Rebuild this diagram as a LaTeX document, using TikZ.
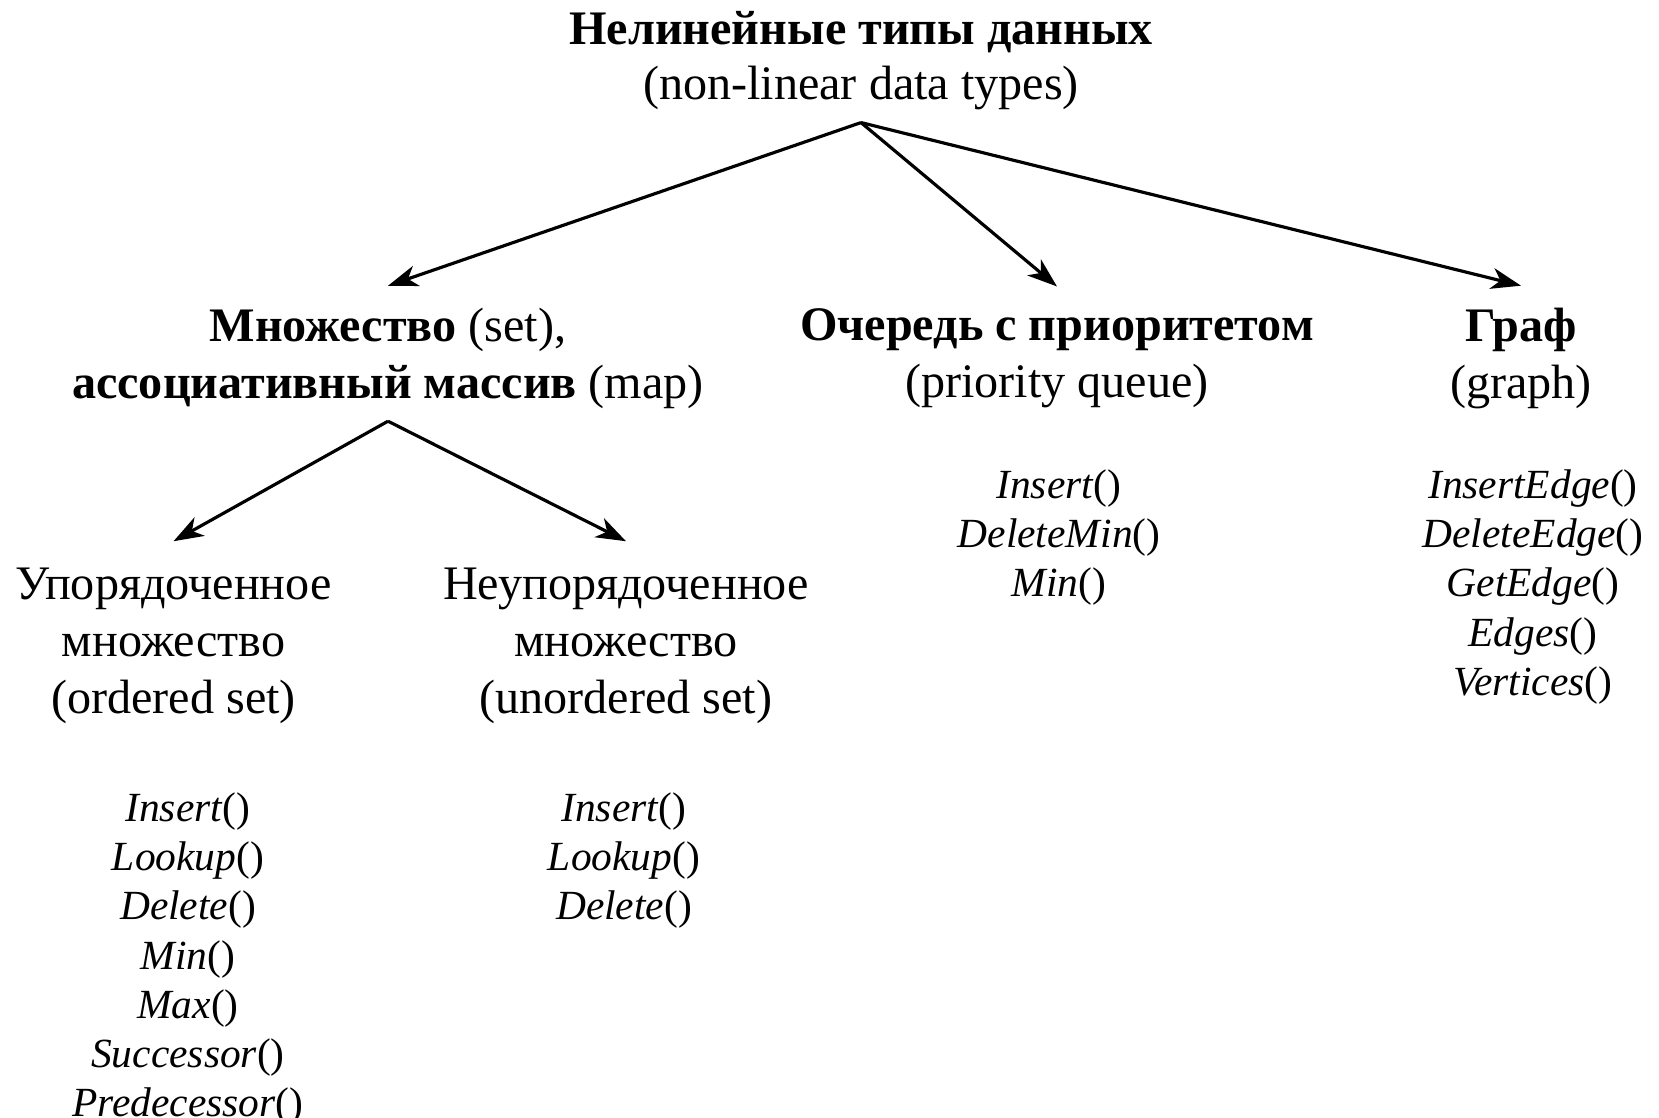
\documentclass[tikz,border=0pt]{standalone}
\usepackage{fontspec}
\setmainfont{Liberation Serif}
\usetikzlibrary{positioning,arrows.meta}
\newcommand{\opname}[1]{\textit{#1}()}

\begin{document}
\begin{tikzpicture}[
head/.style={align=center,font=\fontsize{13.7}{16.2}\selectfont},
ops/.style={align=center,anchor=north,inner sep=0pt,font=\fontsize{11.8}{14}\selectfont},
arrow/.style={-{Stealth[length=8.5pt,width=6pt,inset=2.5pt]},line width=0.9pt}
]
\useasboundingbox (0,0) rectangle (16.59,11.18);
\node[head,font=\fontsize{13.7}{15.6}\selectfont] (root) at (8.61,10.57) {\textbf{Нелинейные типы данных}\\(non-linear data types)};
\node[head] (set) at (3.88,7.595) {\textbf{Множество} (set),\\\textbf{ассоциативный массив} (map)};
\node[head] (pq) at (10.57,7.595) {\textbf{Очередь с приоритетом}\\(priority queue)};
\node[head] (graph) at (15.21,7.595) {\textbf{Граф}\\(graph)};
\node[head] (ordset) at (1.735,4.725) {Упорядоченное\\множество\\(ordered set)};
\node[head] (unordset) at (6.26,4.725) {Неупорядоченное\\множество\\(unordered set)};
% operations
\node[ops] (pqops) at (10.59,6.49) {\opname{Insert}\\\opname{DeleteMin}\\\opname{Min}};
\node[ops] (graphops) at (15.33,6.49) {\opname{InsertEdge}\\\opname{DeleteEdge}\\\opname{GetEdge}\\\opname{Edges}\\\opname{Vertices}};
\node[ops] (ordops) at (1.88,3.26) {\opname{Insert}\\\opname{Lookup}\\\opname{Delete}\\\opname{Min}\\\opname{Max}\\\opname{Successor}\\\opname{Predecessor}};
\node[ops] (unordops) at (6.24,3.26) {\opname{Insert}\\\opname{Lookup}\\\opname{Delete}};
\draw[arrow] (root.south)--([yshift=1mm]set.north); \draw[arrow] (root.south)--([yshift=1mm]pq.north); \draw[arrow] (root.south)--([yshift=1mm]graph.north);
\draw[arrow] (set.south)--([yshift=1.4mm]ordset.north); \draw[arrow] (set.south)--([yshift=1.4mm]unordset.north);
\end{tikzpicture}
\end{document}
